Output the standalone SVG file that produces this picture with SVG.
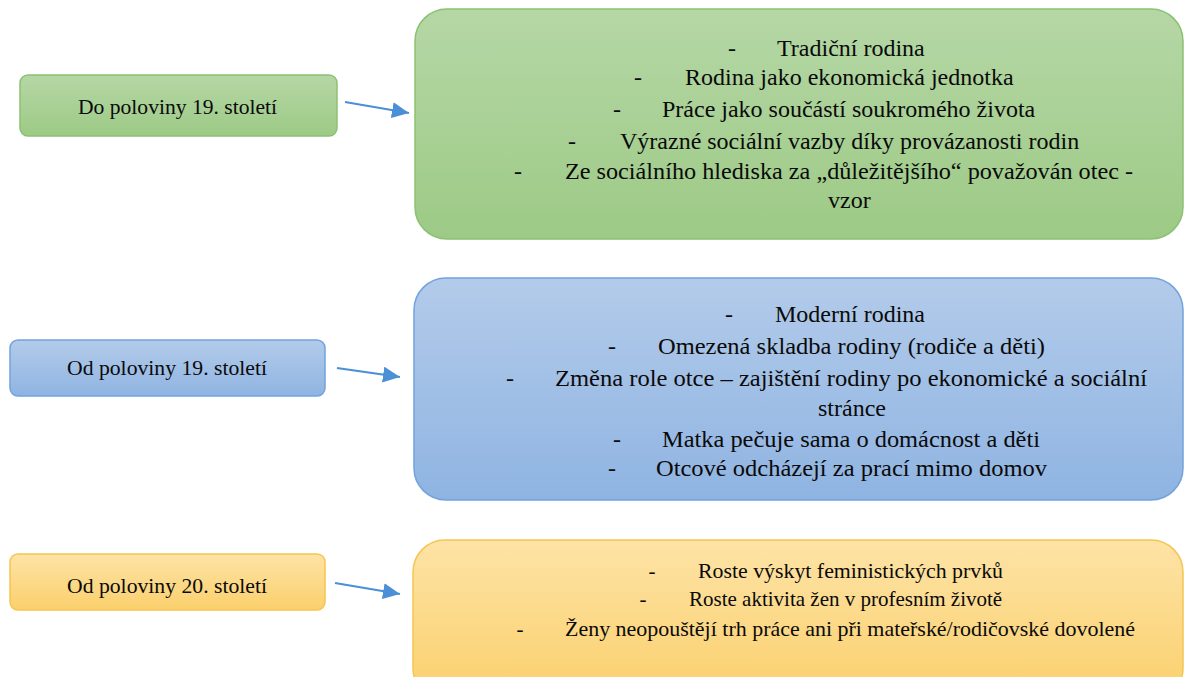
<svg xmlns="http://www.w3.org/2000/svg" width="1184" height="677" viewBox="0 0 1184 677">
<defs>
<linearGradient id="gG" x1="0" y1="0" x2="0" y2="1"><stop offset="0" stop-color="#b5d7a5"/><stop offset="1" stop-color="#9dca86"/></linearGradient>
<linearGradient id="gB" x1="0" y1="0" x2="0" y2="1"><stop offset="0" stop-color="#b3cbea"/><stop offset="1" stop-color="#8fb4e2"/></linearGradient>
<linearGradient id="gY" x1="0" y1="0" x2="0" y2="1"><stop offset="0" stop-color="#fde3a6"/><stop offset="1" stop-color="#fbd06c"/></linearGradient>
<marker id="ah" markerUnits="userSpaceOnUse" markerWidth="18" markerHeight="16" refX="17" refY="8" orient="auto">
<path d="M0,0 L17,8 L0,16 Z" fill="#4b8fd6"/>
</marker>
</defs>
<style>
.g{fill:url(#gG);stroke:#8cc172;stroke-width:1.5}
.b{fill:url(#gB);stroke:#72a3dc;stroke-width:1.5}
.y{fill:url(#gY);stroke:#f5c550;stroke-width:1.5}
.t{font-family:"Liberation Serif","Times New Roman",serif;font-size:24px;fill:#0a0a0a}
.s{font-family:"Liberation Serif","Times New Roman",serif;font-size:21px;fill:#0a0a0a}
.d{text-anchor:middle}
.c{stroke:#4b8fd6;stroke-width:2.2;fill:none;marker-end:url(#ah)}
</style>
<rect width="1184" height="677" fill="#fff"/>
<g id="n1">
<rect class="g" x="20" y="75" width="317" height="61" rx="8"/>
<text class="s" x="78" y="114" textLength="199" lengthAdjust="spacingAndGlyphs">Do poloviny 19. století</text>
</g>
<g id="n2">
<rect class="g" x="415" y="9" width="768" height="230" rx="32"/>
<text class="t d" x="732" y="56">-</text><text class="t" x="777" y="56">Tradiční rodina</text>
<text class="t d" x="638" y="85">-</text><text class="t" x="685" y="85">Rodina jako ekonomická jednotka</text>
<text class="t d" x="617" y="117">-</text><text class="t" x="662" y="117">Práce jako součástí soukromého života</text>
<text class="t d" x="572" y="149">-</text><text class="t" x="620" y="149">Výrazné sociální vazby díky provázanosti rodin</text>
<text class="t d" x="518" y="179">-</text><text class="t" x="565" y="179" textLength="568" lengthAdjust="spacingAndGlyphs">Ze sociálního hlediska za „důležitějšího“ považován otec -</text>
<text class="t" x="828" y="208">vzor</text>
</g>
<g id="n3">
<rect class="b" x="10" y="340" width="315" height="56" rx="8"/>
<text class="s" x="67" y="375" textLength="200" lengthAdjust="spacingAndGlyphs">Od poloviny 19. století</text>
</g>
<g id="n4">
<rect class="b" x="414" y="278" width="769" height="222" rx="32"/>
<text class="t d" x="729" y="322">-</text><text class="t" x="775" y="322">Moderní rodina</text>
<text class="t d" x="612" y="354">-</text><text class="t" x="658" y="354" textLength="387" lengthAdjust="spacingAndGlyphs">Omezená skladba rodiny (rodiče a děti)</text>
<text class="t d" x="510" y="386">-</text><text class="t" x="555" y="386" textLength="592" lengthAdjust="spacingAndGlyphs">Změna role otce – zajištění rodiny po ekonomické a sociální</text>
<text class="t" x="818" y="416">stránce</text>
<text class="t d" x="617" y="447">-</text><text class="t" x="662" y="447" textLength="378" lengthAdjust="spacingAndGlyphs">Matka pečuje sama o domácnost a děti</text>
<text class="t d" x="612" y="476">-</text><text class="t" x="656" y="476" textLength="391" lengthAdjust="spacingAndGlyphs">Otcové odcházejí za prací mimo domov</text>
</g>
<g id="n5">
<rect class="y" x="10" y="554" width="315" height="56" rx="8"/>
<text class="s" x="67" y="593" textLength="200" lengthAdjust="spacingAndGlyphs">Od poloviny 20. století</text>
</g>
<g id="n6">
<rect class="y" x="413" y="540" width="770" height="160" rx="32"/>
<text class="s d" x="652" y="578">-</text><text class="s" x="698" y="578" textLength="305" lengthAdjust="spacingAndGlyphs">Roste výskyt feministických prvků</text>
<text class="s d" x="643" y="606">-</text><text class="s" x="689" y="606">Roste aktivita žen v profesním životě</text>
<text class="s d" x="520" y="636">-</text><text class="s" x="565" y="636" textLength="570" lengthAdjust="spacingAndGlyphs">Ženy neopouštějí trh práce ani při mateřské/rodičovské dovolené</text>
</g>
<g id="connectors">
<line class="c" x1="345" y1="102" x2="409" y2="113"/>
<line class="c" x1="337" y1="368" x2="400" y2="377"/>
<line class="c" x1="335" y1="583" x2="400" y2="594"/>
</g>
</svg>
